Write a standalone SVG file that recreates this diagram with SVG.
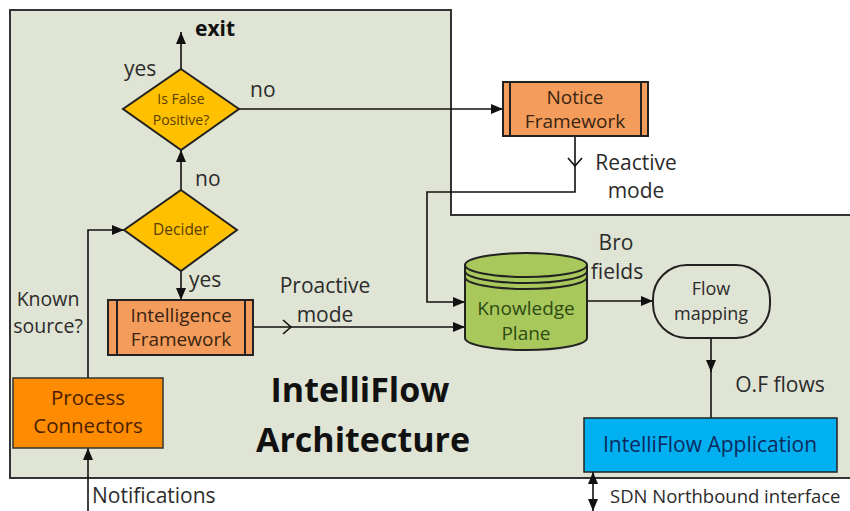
<svg xmlns="http://www.w3.org/2000/svg" width="850" height="511" viewBox="0 0 850 511">
  <defs>
    <marker id="arrow" viewBox="0 0 12 10" refX="12" refY="5" markerWidth="12" markerHeight="10" markerUnits="userSpaceOnUse" orient="auto-start-reverse">
      <path d="M0,0 L12,5 L0,10 Z" fill="#111"/>
    </marker>
  </defs>
  <style>
    text { font-family: "Open Sans", "Liberation Sans", sans-serif; fill: #2b2b2b; }
    .lbl { font-size: 21px; }
    .title { font-size: 34px; font-weight: bold; fill: #111; }
    .node { font-size: 19px; text-anchor: middle; }
    .dtext { font-size: 14px; text-anchor: middle; fill: #5a3d00; }
    .frame { fill: #f39c5c; stroke: #222; stroke-width: 2; }
    .bar { stroke: #222; stroke-width: 2; }
    .diamond { fill: #ffc000; stroke: #222; stroke-width: 2; }
    .conn line, .conn path, .conn polyline { fill: none; stroke: #111; stroke-width: 1.6; }
  </style>

  <!-- canvas and framed architecture area -->
  <rect x="0" y="0" width="850" height="511" fill="#ffffff"/>
  <path d="M10,10 H451 V215 H856 V478 H10 Z" fill="#e0e4d4" stroke="#333" stroke-width="2"/>

  <!-- title -->
  <text class="title" x="360" y="402" text-anchor="middle">IntelliFlow</text>
  <text class="title" x="363" y="452" text-anchor="middle">Architecture</text>

  <!-- connectors -->
  <g id="connectors" class="conn">
    <line x1="181" y1="69" x2="181" y2="32" marker-end="url(#arrow)"/>
    <line x1="239" y1="109" x2="503" y2="109" marker-end="url(#arrow)"/>
    <line x1="181" y1="190" x2="181" y2="150" marker-end="url(#arrow)"/>
    <polyline points="88,378 88,230 124,230" marker-end="url(#arrow)"/>
    <line x1="181" y1="271" x2="181" y2="300" marker-end="url(#arrow)"/>
    <line x1="253" y1="327" x2="465" y2="327" marker-end="url(#arrow)"/>
    <path d="M283,320 L291,327 L283,334"/>
    <polyline points="575,136 575,192 427,192 427,302 465,302" marker-end="url(#arrow)"/>
    <path d="M568,158 L575,166 L582,158"/>
    <line x1="587" y1="301" x2="653" y2="301" marker-end="url(#arrow)"/>
    <line x1="711" y1="338" x2="711" y2="372" marker-end="url(#arrow)"/>
    <line x1="711" y1="370" x2="711" y2="418"/>
    <line x1="88" y1="511" x2="88" y2="448" marker-end="url(#arrow)"/>
    <line x1="593" y1="472" x2="593" y2="511" marker-start="url(#arrow)" marker-end="url(#arrow)"/>
  </g>

  <!-- connector labels -->
  <text x="195" y="36" style="font-size:21px;font-weight:bold;fill:#111">exit</text>
  <text class="lbl" x="124" y="76">yes</text>
  <text class="lbl" x="250" y="97">no</text>
  <text class="lbl" x="195" y="186">no</text>
  <text class="lbl" x="189" y="287">yes</text>
  <text x="48" y="306" text-anchor="middle" style="font-size:19.5px">Known</text>
  <text x="48" y="333" text-anchor="middle" style="font-size:19.5px">source?</text>
  <text class="lbl" x="325" y="293" text-anchor="middle">Proactive</text>
  <text class="lbl" x="325" y="322" text-anchor="middle">mode</text>
  <text class="lbl" x="636" y="170" text-anchor="middle">Reactive</text>
  <text class="lbl" x="636" y="198" text-anchor="middle">mode</text>
  <text class="lbl" x="616" y="250" text-anchor="middle">Bro</text>
  <text class="lbl" x="617" y="279" text-anchor="middle">fields</text>
  <text class="lbl" x="780" y="392" text-anchor="middle">O.F flows</text>
  <text x="92" y="503" style="font-size:21px">Notifications</text>
  <text x="610" y="503" style="font-size:18.5px">SDN Northbound interface</text>

  <!-- decision: is false positive -->
  <g id="is-false-positive">
    <polygon class="diamond" points="181,69 239,109 181,150 123,109"/>
    <text class="dtext" x="181" y="104">Is False</text>
    <text class="dtext" x="181" y="125">Positive?</text>
  </g>

  <!-- decision: decider -->
  <g id="decider">
    <polygon class="diamond" points="181,190 237,230 181,271 124,230"/>
    <text class="dtext" x="181" y="235" style="font-size:15.5px">Decider</text>
  </g>

  <!-- notice framework -->
  <g id="notice-framework">
    <rect class="frame" x="503" y="82" width="145" height="54"/>
    <line class="bar" x1="510" y1="82" x2="510" y2="136"/>
    <line class="bar" x1="641" y1="82" x2="641" y2="136"/>
    <text class="node" x="575" y="104" style="fill:#3a2410">Notice</text>
    <text class="node" x="575" y="128" style="fill:#3a2410">Framework</text>
  </g>

  <!-- intelligence framework -->
  <g id="intelligence-framework">
    <rect class="frame" x="108" y="300" width="145" height="55"/>
    <line class="bar" x1="117" y1="300" x2="117" y2="355"/>
    <line class="bar" x1="245" y1="300" x2="245" y2="355"/>
    <text class="node" x="181" y="322" style="fill:#3a2410">Intelligence</text>
    <text class="node" x="181" y="346" style="fill:#3a2410">Framework</text>
  </g>

  <!-- knowledge plane store -->
  <g id="knowledge-plane">
    <path d="M465,265 V338 A61,12 0 0 0 587,338 V265" fill="#a8c85c" stroke="#222" stroke-width="2"/>
    <ellipse cx="526" cy="265" rx="61" ry="12" fill="#a8c85c" stroke="#222" stroke-width="2"/>
    <path d="M465,271 A61,12 0 0 0 587,271" fill="none" stroke="#222" stroke-width="2"/>
    <path d="M465,277 A61,12 0 0 0 587,277" fill="none" stroke="#222" stroke-width="2"/>
    <text class="node" x="526" y="315" style="fill:#2f4a12">Knowledge</text>
    <text class="node" x="526" y="340" style="fill:#2f4a12">Plane</text>
  </g>

  <!-- flow mapping -->
  <g id="flow-mapping">
    <rect x="653" y="265" width="117" height="73" rx="34" ry="34" fill="#e0e4d4" stroke="#222" stroke-width="2"/>
    <text class="node" x="711" y="295" style="font-size:18px">Flow</text>
    <text class="node" x="711" y="320" style="font-size:18px">mapping</text>
  </g>

  <!-- process connectors -->
  <g id="process-connectors">
    <rect x="13" y="378" width="150" height="70" fill="#ff8c00" stroke="#333" stroke-width="1.5"/>
    <text class="node" x="88" y="405" style="font-size:20.5px;fill:#4a2000">Process</text>
    <text class="node" x="88" y="433" style="font-size:20.5px;fill:#4a2000">Connectors</text>
  </g>

  <!-- intelliflow application -->
  <g id="intelliflow-application">
    <rect x="584" y="418" width="253" height="54" fill="#00b0f0" stroke="#222" stroke-width="1.5"/>
    <text class="node" x="710" y="452" style="font-size:21px;fill:#0c2a5c">IntelliFlow Application</text>
  </g>
</svg>
